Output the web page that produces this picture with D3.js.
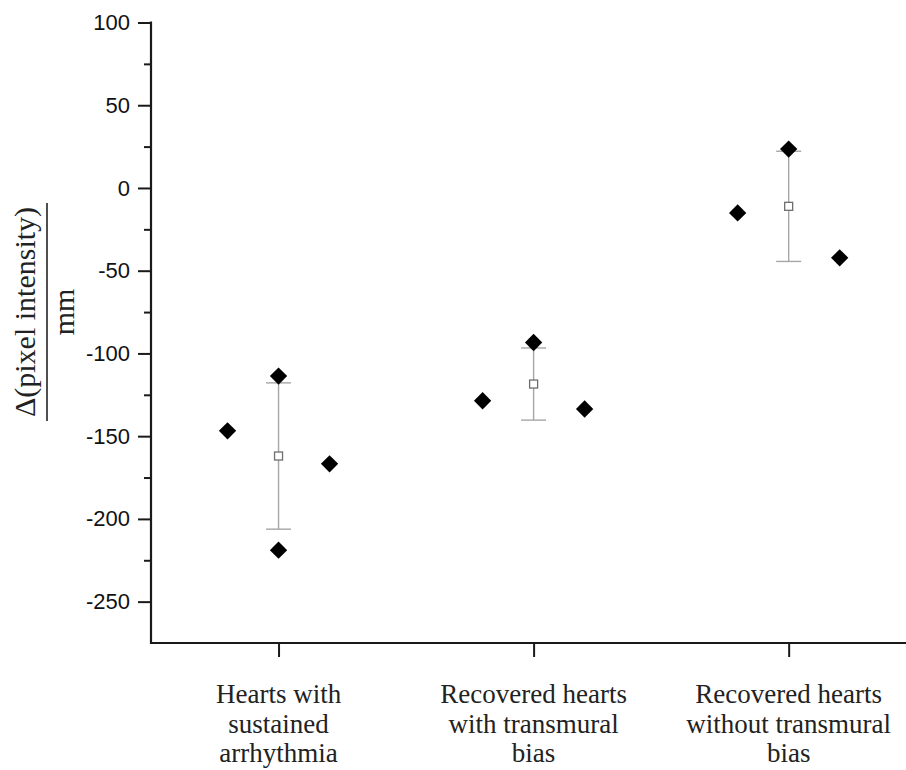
<!DOCTYPE html>
<html>
<head>
<meta charset="utf-8">
<script src="https://cdn.jsdelivr.net/npm/d3@7"></script>
<style>
  html, body { margin: 0; padding: 0; background: #fff; }
  svg { display: block; }
</style>
</head>
<body>
<svg id="chart" width="906" height="770"></svg>
<script>
// ---- data ----
const categories = [
  ["Hearts with", "sustained", "arrhythmia"],
  ["Recovered hearts", "with transmural", "bias"],
  ["Recovered hearts", "without transmural", "bias"]
];
const categoryIndex = [1, 2, 3];
// individual samples: group, slot (-1 left, 0 centre, 1 right), value
const sampleGroup = [1, 1, 1, 1, 2, 2, 2, 3, 3, 3];
const sampleSlot  = [-1, 0, 0, 1, -1, 0, 1, -1, 0, 1];
const sampleValue = [-146.8, -113.7, -218.9, -166.7, -128.6, -93.4, -133.6, -15.1, 23.5, -42.2];
// group mean and standard deviation (error bar half-length)
const meanValue = [-162.0, -118.5, -11.1];
const sdValue   = [44.2, 21.8, 33.3];
const yMajorTicks = [100, 50, 0, -50, -100, -150, -200, -250];
const yMinorTicks = [75, 25, -25, -75, -125, -175, -225];
const yTitleTop = "\u0394(pixel intensity)";
const yTitleBottom = "mm";

// ---- layout ----
const svg = d3.select("#chart");
const axisColor = "#1a1a1a";
const y = d3.scaleLinear().domain([-275, 100]).range([643, 22.5]);
const x = d3.scaleLinear().domain([0.5, 3.46]).range([151, 906]);
const slotOffset = d3.scaleLinear().domain([-1, 1]).range([-0.2, 0.2]);

// Y axis (major ticks with labels)
const gy = svg.append("g").attr("transform", `translate(${x(0.5)},0)`)
  .call(d3.axisLeft(y).tickValues(yMajorTicks).tickSize(13).tickPadding(8).tickFormat(d3.format("d")));
gy.select(".domain").remove();
gy.selectAll(".tick line").attr("stroke", axisColor).attr("stroke-width", 2);
gy.selectAll(".tick text")
  .attr("fill", "#111")
  .style("font-family", "'Liberation Sans', Arial, sans-serif")
  .style("font-size", "22px")
  .text(d => d < 0 ? "-" + Math.abs(d) : d);

// minor ticks
const gym = svg.append("g").attr("transform", `translate(${x(0.5)},0)`)
  .call(d3.axisLeft(y).tickValues(yMinorTicks).tickSize(7).tickFormat(""));
gym.select(".domain").remove();
gym.selectAll(".tick line").attr("stroke", axisColor).attr("stroke-width", 2);

// X axis ticks
const gx = svg.append("g").attr("transform", `translate(0,${y(-275)})`)
  .call(d3.axisBottom(x).tickValues(categoryIndex).tickSize(14).tickFormat(""));
gx.select(".domain").remove();
gx.selectAll(".tick line").attr("stroke", axisColor).attr("stroke-width", 2);

// axis lines
svg.append("line")
  .attr("x1", x(0.5)).attr("x2", x(0.5))
  .attr("y1", y(100) - 1).attr("y2", y(-275) + 1)
  .attr("stroke", axisColor).attr("stroke-width", 2.2);
svg.append("line")
  .attr("x1", x(0.5) - 1).attr("x2", x(3.46))
  .attr("y1", y(-275)).attr("y2", y(-275))
  .attr("stroke", axisColor).attr("stroke-width", 2.2);

// category labels
const labelG = svg.append("g")
  .style("font-family", "'Liberation Serif', 'Times New Roman', serif")
  .style("font-size", "27px")
  .attr("fill", "#222");
categories.forEach((lines, i) => {
  const t = labelG.append("text")
    .attr("x", x(categoryIndex[i]))
    .attr("y", 703)
    .attr("text-anchor", "middle");
  lines.forEach((ln, j) => {
    t.append("tspan").attr("x", x(categoryIndex[i])).attr("dy", j === 0 ? 0 : 29.5).text(ln);
  });
});

// Y axis title as a fraction
const titleG = svg.append("g")
  .style("font-family", "'Liberation Serif', 'Times New Roman', serif")
  .attr("fill", "#222");
titleG.append("text")
  .attr("transform", "translate(35,312) rotate(-90)")
  .attr("text-anchor", "middle")
  .style("font-size", "30px")
  .text(yTitleTop);
titleG.append("line")
  .attr("x1", 47).attr("x2", 47)
  .attr("y1", 203).attr("y2", 421)
  .attr("stroke", "#222").attr("stroke-width", 1.6);
titleG.append("text")
  .attr("transform", "translate(74,312) rotate(-90)")
  .attr("text-anchor", "middle")
  .style("font-size", "30px")
  .text(yTitleBottom);

// error bars
const errColor = "#a6a6a6";
const capHalf = 12.5;
const eb = svg.append("g");
meanValue.forEach((m, i) => {
  const cx = x(categoryIndex[i]);
  eb.append("line").attr("x1", cx).attr("x2", cx)
    .attr("y1", y(m + sdValue[i])).attr("y2", y(m - sdValue[i]))
    .attr("stroke", errColor).attr("stroke-width", 1.4);
  [m + sdValue[i], m - sdValue[i]].forEach(v => {
    eb.append("line").attr("x1", cx - capHalf).attr("x2", cx + capHalf)
      .attr("y1", y(v)).attr("y2", y(v))
      .attr("stroke", errColor).attr("stroke-width", 1.4);
  });
  eb.append("rect")
    .attr("x", cx - 4).attr("y", y(m) - 4)
    .attr("width", 8).attr("height", 8)
    .attr("fill", "#fff").attr("stroke", "#6e6e6e").attr("stroke-width", 1.3);
});

// sample diamonds
const diamond = d3.symbol().type(d3.symbolSquare).size(150);
svg.append("g").selectAll("path")
  .data(sampleValue.map((v, i) => ({ v, g: sampleGroup[i], s: sampleSlot[i] })))
  .join("path")
  .attr("d", diamond)
  .attr("transform", d => `translate(${x(d.g + slotOffset(d.s))},${y(d.v)}) rotate(45)`)
  .attr("fill", "#000");
</script>
</body>
</html>
